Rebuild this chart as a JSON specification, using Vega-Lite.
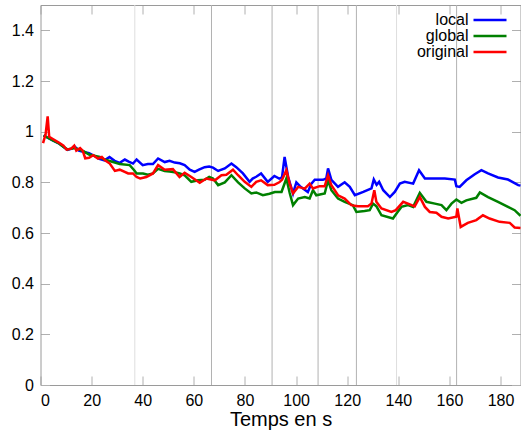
{
 "$schema": "https://vega.github.io/schema/vega-lite/v6.json",
 "width": 480,
 "height": 380,
 "autosize": {"type": "none"},
 "padding": {"left": 40.5, "top": 5, "right": 0.5, "bottom": 50},
 "background": "white",
 "config": {
  "view": {"stroke": null},
  "font": "Liberation Sans",
  "axis": {
   "domainColor": "#9a9a9a", "tickColor": "#b0b0b0", "grid": false,
   "labelFont": "Liberation Sans", "labelFontSize": 16, "labelColor": "#000",
   "titleFont": "Liberation Sans", "titleFontSize": 20, "titleFontWeight": "normal", "titleColor": "#000"
  }
 },
 "datasets": {
  "events": [
   {"t": 36.9, "kind": "light"}, {"t": 66.9, "kind": "mid"}, {"t": 90.6, "kind": "mid"},
   {"t": 108.6, "kind": "mid"}, {"t": 123.6, "kind": "mid"}, {"t": 139.3, "kind": "light"}, {"t": 162.8, "kind": "mid"}
  ],
  "series": [
   {"s":"local","t":1.2,"v":0.985},{"s":"local","t":3,"v":0.975},{"s":"local","t":5,"v":0.965},{"s":"local","t":7,"v":0.955},{"s":"local","t":9,"v":0.94},{"s":"local","t":10.5,"v":0.928},{"s":"local","t":12,"v":0.932},{"s":"local","t":13.5,"v":0.94},{"s":"local","t":15,"v":0.925},{"s":"local","t":17,"v":0.92},{"s":"local","t":19,"v":0.915},{"s":"local","t":21,"v":0.905},{"s":"local","t":23,"v":0.893},{"s":"local","t":25,"v":0.887},{"s":"local","t":27,"v":0.9},{"s":"local","t":29,"v":0.885},{"s":"local","t":31,"v":0.877},{"s":"local","t":33,"v":0.89},{"s":"local","t":34.5,"v":0.882},{"s":"local","t":36.2,"v":0.874},{"s":"local","t":37.6,"v":0.89},{"s":"local","t":40,"v":0.868},{"s":"local","t":42,"v":0.872},{"s":"local","t":44,"v":0.872},{"s":"local","t":46,"v":0.894},{"s":"local","t":48.6,"v":0.88},{"s":"local","t":50.5,"v":0.885},{"s":"local","t":52.5,"v":0.878},{"s":"local","t":54.5,"v":0.875},{"s":"local","t":56.4,"v":0.868},{"s":"local","t":58.4,"v":0.85},{"s":"local","t":60.3,"v":0.841},{"s":"local","t":62,"v":0.85},{"s":"local","t":64.2,"v":0.86},{"s":"local","t":66,"v":0.862},{"s":"local","t":67.5,"v":0.858},{"s":"local","t":69.5,"v":0.845},{"s":"local","t":72.1,"v":0.855},{"s":"local","t":74.7,"v":0.874},{"s":"local","t":76.6,"v":0.86},{"s":"local","t":79.2,"v":0.835},{"s":"local","t":81.8,"v":0.802},{"s":"local","t":83,"v":0.815},{"s":"local","t":84.4,"v":0.822},{"s":"local","t":86.3,"v":0.835},{"s":"local","t":88.9,"v":0.802},{"s":"local","t":91.5,"v":0.825},{"s":"local","t":93.4,"v":0.815},{"s":"local","t":94.5,"v":0.82},{"s":"local","t":95.5,"v":0.9},{"s":"local","t":96.9,"v":0.821},{"s":"local","t":98.8,"v":0.756},{"s":"local","t":100.1,"v":0.8},{"s":"local","t":101.5,"v":0.785},{"s":"local","t":102.7,"v":0.776},{"s":"local","t":104.6,"v":0.762},{"s":"local","t":106,"v":0.795},{"s":"local","t":107.3,"v":0.81},{"s":"local","t":110.5,"v":0.81},{"s":"local","t":111.8,"v":0.815},{"s":"local","t":112.5,"v":0.855},{"s":"local","t":113.8,"v":0.81},{"s":"local","t":116.4,"v":0.782},{"s":"local","t":119,"v":0.8},{"s":"local","t":121,"v":0.782},{"s":"local","t":123,"v":0.749},{"s":"local","t":126.3,"v":0.762},{"s":"local","t":129.5,"v":0.776},{"s":"local","t":130.4,"v":0.811},{"s":"local","t":131.5,"v":0.79},{"s":"local","t":132.5,"v":0.802},{"s":"local","t":134.1,"v":0.769},{"s":"local","t":136.7,"v":0.742},{"s":"local","t":138.6,"v":0.762},{"s":"local","t":140.6,"v":0.795},{"s":"local","t":142.5,"v":0.802},{"s":"local","t":145.8,"v":0.795},{"s":"local","t":148.1,"v":0.848},{"s":"local","t":150.4,"v":0.815},{"s":"local","t":154.3,"v":0.815},{"s":"local","t":158.2,"v":0.815},{"s":"local","t":162.1,"v":0.811},{"s":"local","t":162.7,"v":0.785},{"s":"local","t":164,"v":0.782},{"s":"local","t":166.6,"v":0.808},{"s":"local","t":169.9,"v":0.832},{"s":"local","t":172.5,"v":0.848},{"s":"local","t":175.1,"v":0.835},{"s":"local","t":179,"v":0.819},{"s":"local","t":182.9,"v":0.811},{"s":"local","t":186.9,"v":0.789},{"s":"local","t":187.8,"v":0.787},
   {"s":"global","t":1.2,"v":0.985},{"s":"global","t":3,"v":0.975},{"s":"global","t":5,"v":0.965},{"s":"global","t":7,"v":0.955},{"s":"global","t":9,"v":0.94},{"s":"global","t":10.5,"v":0.93},{"s":"global","t":12,"v":0.933},{"s":"global","t":13.5,"v":0.935},{"s":"global","t":15,"v":0.93},{"s":"global","t":17,"v":0.922},{"s":"global","t":19,"v":0.91},{"s":"global","t":21,"v":0.905},{"s":"global","t":23.2,"v":0.9},{"s":"global","t":25,"v":0.89},{"s":"global","t":28.4,"v":0.88},{"s":"global","t":31,"v":0.872},{"s":"global","t":34.9,"v":0.868},{"s":"global","t":36.5,"v":0.85},{"s":"global","t":37.6,"v":0.835},{"s":"global","t":40.1,"v":0.835},{"s":"global","t":42,"v":0.83},{"s":"global","t":44,"v":0.835},{"s":"global","t":46,"v":0.853},{"s":"global","t":48.6,"v":0.845},{"s":"global","t":50.5,"v":0.843},{"s":"global","t":52.5,"v":0.84},{"s":"global","t":54.5,"v":0.835},{"s":"global","t":56.4,"v":0.828},{"s":"global","t":59,"v":0.802},{"s":"global","t":61.6,"v":0.808},{"s":"global","t":64.2,"v":0.81},{"s":"global","t":66,"v":0.821},{"s":"global","t":67.5,"v":0.815},{"s":"global","t":69.5,"v":0.789},{"s":"global","t":72.1,"v":0.8},{"s":"global","t":74.7,"v":0.828},{"s":"global","t":77.3,"v":0.8},{"s":"global","t":79.9,"v":0.776},{"s":"global","t":82.5,"v":0.756},{"s":"global","t":84.4,"v":0.76},{"s":"global","t":87,"v":0.749},{"s":"global","t":89.6,"v":0.755},{"s":"global","t":91.7,"v":0.762},{"s":"global","t":94.3,"v":0.762},{"s":"global","t":96.2,"v":0.815},{"s":"global","t":97.5,"v":0.758},{"s":"global","t":98.8,"v":0.71},{"s":"global","t":100.8,"v":0.736},{"s":"global","t":103.4,"v":0.742},{"s":"global","t":105.3,"v":0.736},{"s":"global","t":106.6,"v":0.769},{"s":"global","t":107.9,"v":0.749},{"s":"global","t":111.2,"v":0.756},{"s":"global","t":112.5,"v":0.808},{"s":"global","t":113.8,"v":0.769},{"s":"global","t":116.4,"v":0.736},{"s":"global","t":119,"v":0.723},{"s":"global","t":122.2,"v":0.71},{"s":"global","t":123.6,"v":0.683},{"s":"global","t":126.8,"v":0.687},{"s":"global","t":128.8,"v":0.69},{"s":"global","t":130.1,"v":0.716},{"s":"global","t":131.4,"v":0.706},{"s":"global","t":133.4,"v":0.67},{"s":"global","t":137.9,"v":0.657},{"s":"global","t":139.5,"v":0.68},{"s":"global","t":141.2,"v":0.703},{"s":"global","t":143.8,"v":0.71},{"s":"global","t":145.8,"v":0.703},{"s":"global","t":148.4,"v":0.758},{"s":"global","t":151,"v":0.723},{"s":"global","t":154.3,"v":0.716},{"s":"global","t":156.9,"v":0.71},{"s":"global","t":158.8,"v":0.69},{"s":"global","t":160.8,"v":0.716},{"s":"global","t":162.7,"v":0.732},{"s":"global","t":164.7,"v":0.719},{"s":"global","t":166.6,"v":0.729},{"s":"global","t":170.5,"v":0.739},{"s":"global","t":171.9,"v":0.76},{"s":"global","t":175.1,"v":0.742},{"s":"global","t":179,"v":0.723},{"s":"global","t":182.9,"v":0.703},{"s":"global","t":185.5,"v":0.69},{"s":"global","t":187.8,"v":0.668},
   {"s":"original","t":1.0,"v":0.955},{"s":"original","t":2.0,"v":0.99},{"s":"original","t":2.8,"v":1.06},{"s":"original","t":3.4,"v":0.98},{"s":"original","t":5,"v":0.97},{"s":"original","t":7,"v":0.958},{"s":"original","t":9,"v":0.945},{"s":"original","t":10.2,"v":0.929},{"s":"original","t":12,"v":0.933},{"s":"original","t":13.2,"v":0.945},{"s":"original","t":14,"v":0.925},{"s":"original","t":15.5,"v":0.935},{"s":"original","t":16.5,"v":0.925},{"s":"original","t":17.5,"v":0.895},{"s":"original","t":19,"v":0.897},{"s":"original","t":20.6,"v":0.907},{"s":"original","t":22.5,"v":0.894},{"s":"original","t":24,"v":0.9},{"s":"original","t":25.5,"v":0.885},{"s":"original","t":27.1,"v":0.874},{"s":"original","t":29.1,"v":0.845},{"s":"original","t":31,"v":0.85},{"s":"original","t":34.3,"v":0.835},{"s":"original","t":36.2,"v":0.835},{"s":"original","t":37.6,"v":0.821},{"s":"original","t":39,"v":0.815},{"s":"original","t":41.4,"v":0.821},{"s":"original","t":44,"v":0.835},{"s":"original","t":46,"v":0.868},{"s":"original","t":48.6,"v":0.85},{"s":"original","t":51.8,"v":0.852},{"s":"original","t":54.4,"v":0.821},{"s":"original","t":56.4,"v":0.838},{"s":"original","t":59,"v":0.821},{"s":"original","t":62.3,"v":0.798},{"s":"original","t":64.9,"v":0.815},{"s":"original","t":68.2,"v":0.808},{"s":"original","t":70.8,"v":0.828},{"s":"original","t":72.7,"v":0.83},{"s":"original","t":75.3,"v":0.85},{"s":"original","t":77.3,"v":0.828},{"s":"original","t":79.9,"v":0.802},{"s":"original","t":82.5,"v":0.782},{"s":"original","t":84.4,"v":0.802},{"s":"original","t":86.3,"v":0.808},{"s":"original","t":88.9,"v":0.789},{"s":"original","t":91.5,"v":0.79},{"s":"original","t":93.4,"v":0.8},{"s":"original","t":94.5,"v":0.81},{"s":"original","t":96.2,"v":0.848},{"s":"original","t":97.5,"v":0.795},{"s":"original","t":98.8,"v":0.756},{"s":"original","t":100.8,"v":0.782},{"s":"original","t":103.4,"v":0.775},{"s":"original","t":105.3,"v":0.795},{"s":"original","t":106.6,"v":0.776},{"s":"original","t":109.2,"v":0.785},{"s":"original","t":111.2,"v":0.785},{"s":"original","t":112.5,"v":0.828},{"s":"original","t":113.8,"v":0.789},{"s":"original","t":116.4,"v":0.749},{"s":"original","t":119,"v":0.736},{"s":"original","t":121.6,"v":0.71},{"s":"original","t":124.2,"v":0.706},{"s":"original","t":128.1,"v":0.706},{"s":"original","t":129.5,"v":0.716},{"s":"original","t":130.6,"v":0.769},{"s":"original","t":131.4,"v":0.723},{"s":"original","t":133.4,"v":0.697},{"s":"original","t":137.3,"v":0.683},{"s":"original","t":139,"v":0.69},{"s":"original","t":141.9,"v":0.723},{"s":"original","t":144.5,"v":0.713},{"s":"original","t":146.4,"v":0.705},{"s":"original","t":148.4,"v":0.742},{"s":"original","t":150.4,"v":0.703},{"s":"original","t":152.3,"v":0.683},{"s":"original","t":154.9,"v":0.68},{"s":"original","t":156.9,"v":0.664},{"s":"original","t":159.5,"v":0.657},{"s":"original","t":162.7,"v":0.664},{"s":"original","t":163.1,"v":0.697},{"s":"original","t":164.4,"v":0.624},{"s":"original","t":167.2,"v":0.64},{"s":"original","t":170.5,"v":0.651},{"s":"original","t":173.1,"v":0.67},{"s":"original","t":175.7,"v":0.657},{"s":"original","t":179.6,"v":0.644},{"s":"original","t":183.6,"v":0.64},{"s":"original","t":185.5,"v":0.622},{"s":"original","t":187.8,"v":0.62}
  ]
 },
 "resolve": {"axis": {"x": "independent", "y": "independent"}},
 "layer": [
  {
   "data": {"name": "events"},
   "mark": {"type": "rule", "strokeWidth": 1},
   "encoding": {
    "x": {"field": "t", "type": "quantitative",
          "scale": {"domain": [0, 187.8], "nice": false, "zero": false},
          "axis": {"orient": "top", "labels": false, "title": null, "values": [0,20,40,60,80,100,120,140,160,180], "tickSize": -9, "domain": true}},
    "stroke": {"field": "kind", "type": "nominal", "scale": {"domain": ["light", "mid"], "range": ["#dedede", "#b2b2b2"]}, "legend": null}
   }
  },
  {
   "data": {"name": "series"},
   "mark": {"type": "line", "strokeWidth": 2.5},
   "encoding": {
    "x": {"field": "t", "type": "quantitative",
          "axis": {"orient": "bottom", "title": "Temps en s", "values": [0,20,40,60,80,100,120,140,160,180], "tickSize": -9, "labelPadding": 16, "titlePadding": 1}},
    "y": {"field": "v", "type": "quantitative",
          "scale": {"domain": [0, 1.5], "nice": false},
          "axis": {"orient": "left", "title": null, "values": [0,0.2,0.4,0.6,0.8,1,1.2,1.4], "format": "~g", "tickSize": -9, "labelPadding": 16}},
    "color": {"field": "s", "type": "nominal",
              "scale": {"domain": ["local", "global", "original"], "range": ["#0000ff", "#008000", "#ff0000"]},
              "legend": {"orient": "none", "legendX": 441.5, "legendY": 7, "title": null, "symbolType": "M-3,0H3", "symbolSize": 121, "symbolStrokeWidth": 2.5, "labelAlign": "right", "labelOffset": -29.5, "labelFontSize": 16, "labelFont": "Liberation Sans", "labelColor": "#000", "rowPadding": 0, "padding": 0}}
   }
  },
  {
   "mark": {"type": "rule", "color": "#ff0000", "strokeWidth": 2.5},
   "encoding": {
    "y": {"datum": 1, "type": "quantitative",
          "axis": {"orient": "right", "labels": false, "title": null, "values": [0,0.2,0.4,0.6,0.8,1,1.2,1.4], "tickSize": -9}}
   }
  }
 ]
}
